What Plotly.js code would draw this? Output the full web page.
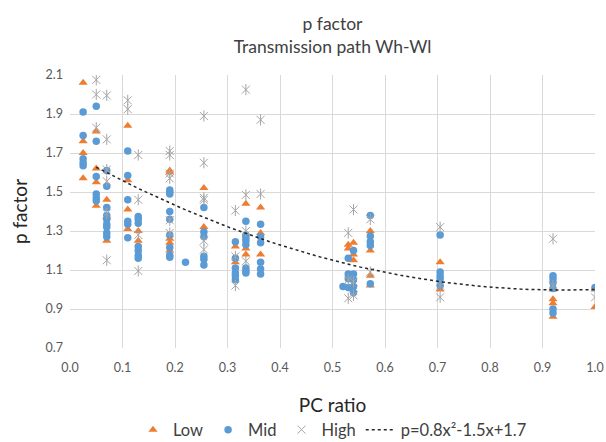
<!DOCTYPE html>
<html>
<head>
<meta charset="utf-8">
<script src="https://cdn.plot.ly/plotly-3.0.1.min.js"></script>
<style>html,body{margin:0;padding:0;background:#fff;}#chart{width:606px;height:442px;}</style>
</head>
<body>
<div id="chart"></div>
<script>
// ---- data ----
const lowX = [0.025,0.025,0.025,0.025, 0.05,0.05,0.05,0.05, 0.07,0.07,0.07, 0.11,0.11,0.11,0.11, 0.13,0.13,
  0.19,0.19,0.19,0.19,0.19, 0.255,0.255, 0.315,0.315, 0.335,0.335,0.335, 0.363,0.363,0.363,
  0.53,0.53, 0.54,0.54,0.54, 0.572,0.572,0.572,0.572, 0.705,0.705, 0.92,0.92,0.92,0.92, 1.0,1.0];
const lowY = [2.06,1.76,1.70,1.57, 1.81,1.62,1.55,1.43, 1.46,1.37,1.25, 1.84,1.56,1.41,1.31, 1.30,1.25,
  1.61,1.60,1.26,1.24,1.20, 1.52,1.32, 1.22,1.14, 1.44,1.21,1.18, 1.42,1.29,1.18,
  1.23,1.21, 1.24,1.18,1.15, 1.30,1.20,1.07,1.02, 1.14,1.00, 1.00,0.95,0.93,0.86, 1.00,0.91];

const midX = [0.025,0.025,0.025,0.025,0.025, 0.05,0.05,0.05,0.05,0.05,0.05,
  0.07,0.07,0.07,0.07,0.07,0.07,0.07,0.07,0.07, 0.11,0.11,0.11,0.11,0.11,0.11,
  0.13,0.13,0.13,0.13,0.13,0.13,0.13, 0.19,0.19,0.19,0.19,0.19,0.19,0.19,0.19,0.19, 0.22,
  0.255,0.255,0.255,0.255,0.255,0.255, 0.315,0.315,0.315,0.315,0.315,0.315,
  0.335,0.335,0.335,0.335,0.335,0.335,0.335,0.335, 0.363,0.363,0.363,0.363,0.363,0.363,
  0.52, 0.53,0.53,0.53,0.53, 0.54,0.54,0.54,0.54,0.54, 0.572,0.572,0.572,0.572,0.572,
  0.705,0.705,0.705,0.705,0.705, 0.92,0.92,0.92,0.92,0.92,0.92, 1.0];
const midY = [1.91,1.79,1.67,1.65,1.635, 1.94,1.76,1.58,1.49,1.47,1.455,
  1.61,1.53,1.42,1.38,1.36,1.335,1.32,1.29,1.27, 1.71,1.585,1.46,1.35,1.335,1.265,
  1.375,1.36,1.34,1.22,1.20,1.175,1.16, 1.51,1.50,1.49,1.40,1.36,1.28,1.215,1.175,1.165, 1.14,
  1.42,1.295,1.27,1.17,1.155,1.125, 1.245,1.16,1.11,1.085,1.07,1.05,
  1.35,1.28,1.265,1.25,1.23,1.11,1.095,1.085, 1.335,1.27,1.24,1.14,1.105,1.08,
  1.015, 1.16,1.08,1.055,1.01, 1.20,1.08,1.05,1.015,0.985, 1.38,1.275,1.245,1.225,1.03,
  1.28,1.09,1.07,1.055,1.02, 1.07,1.055,1.035,1.005,0.90,0.88, 1.01];

const highX = [0.05,0.05,0.05, 0.07,0.07,0.07,0.07,0.07,0.07, 0.11,0.11, 0.13,0.13,0.13,0.13,
  0.19,0.19,0.19,0.19,0.19,0.19, 0.255,0.255,0.255,0.255,0.255,0.255, 0.315,0.315,0.315,
  0.335,0.335,0.335,0.335, 0.363,0.363, 0.53,0.53,0.53, 0.54,0.54,0.54, 0.572,0.572,
  0.705,0.705,0.705, 0.92,0.92, 1.0];
const highY = [2.075,2.00,1.83, 1.995,1.77,1.615,1.555,1.39,1.15, 1.97,1.925, 1.69,1.46,1.28,1.095,
  1.71,1.69,1.595,1.57,1.355,1.29, 1.89,1.65,1.47,1.46,1.25,1.205, 1.405,1.17,1.02,
  2.025,1.485,1.30,1.145, 1.87,1.49, 1.29,1.05,0.955, 1.41,1.04,0.97, 1.36,1.09,
  1.32,1.02,0.96, 1.26,1.02, 0.96];

// trendline p = 0.8x^2 - 1.5x + 1.7 (as labelled), drawn over the fitted range
const trendCoef = [0.8, -1.5, 1.7];
const trendRange = [0.05, 1.0];
const trendLabel = 'p=0.8x²-1.5x+1.7';

const tickVals = [0,0.1,0.2,0.3,0.4,0.5,0.6,0.7,0.8,0.9,1.0];
const yTickVals = [0.7,0.9,1.1,1.3,1.5,1.7,1.9,2.1];

const trendX = [], trendY = [];
for (let i = 0; i <= 100; i++) {
  const x = trendRange[0] + (trendRange[1] - trendRange[0]) * i / 100;
  trendX.push(x);
  trendY.push(trendCoef[0]*x*x + trendCoef[1]*x + trendCoef[2]);
}

const FONT = 'Lato, "Open Sans", "Liberation Sans", sans-serif';

const traces = [
  {x: lowX, y: lowY, name: 'Low', type: 'scatter', mode: 'markers',
   marker: {symbol: 'triangle-up', size: 8, color: '#ED7D31'}},
  {x: midX, y: midY, name: 'Mid', type: 'scatter', mode: 'markers',
   marker: {symbol: 'circle', size: 7.5, color: '#5B9BD5'}},
  {x: highX, y: highY, name: 'High', type: 'scatter', mode: 'markers',
   marker: {symbol: 'x-thin-open', size: 8, color: '#A5A5A5', line: {width: 1, color: '#A5A5A5'}}},
  {x: highX, y: highY, name: 'High', type: 'scatter', mode: 'markers', showlegend: false, hoverinfo: 'skip',
   marker: {symbol: 'line-ns-open', size: 8, color: '#A5A5A5', line: {width: 1, color: '#A5A5A5'}}},
  {x: trendX, y: trendY, name: trendLabel, type: 'scatter', mode: 'lines',
   line: {color: '#262626', width: 1.5, dash: 'dot'}}
];

const layout = {
  width: 606, height: 442,
  paper_bgcolor: '#fff', plot_bgcolor: '#fff',
  margin: {l: 69.5, r: 10.5, t: 75, b: 94, autoexpand: false},
  font: {family: FONT, color: '#595959'},
  title: {text: 'p factor<br>Transmission path Wh-Wl', x: 0.5, xref: 'paper', y: 0.932, yanchor: 'middle',
    font: {family: FONT, size: 17.5, color: '#404040'}},
  xaxis: {range: [0, 1.0], tickvals: tickVals, tickformat: '.1f', showgrid: true, gridcolor: '#D9D9D9',
    zeroline: false, showline: false, ticks: '', ticklabelstandoff: 10, automargin: false,
    tickfont: {size: 12.5, color: '#595959'},
    title: {text: 'PC ratio', font: {size: 19, color: '#262626'}, standoff: 25}},
  yaxis: {range: [0.7, 2.1], tickvals: yTickVals, tickformat: '.1f', showgrid: true, gridcolor: '#D9D9D9',
    zeroline: false, showline: false, ticks: '', ticklabelstandoff: 6, automargin: false,
    tickfont: {size: 12.5, color: '#595959'},
    title: {text: 'p factor', font: {size: 19, color: '#262626'}, standoff: 12}},
  showlegend: true,
  legend: {orientation: 'h', x: 0.5, xanchor: 'center', y: -0.3, yanchor: 'middle',
    font: {size: 16.5, color: '#404040'}, itemwidth: 30, tracegroupgap: 0},
};

Plotly.newPlot('chart', traces, layout, {displayModeBar: false, staticPlot: true});
</script>
</body>
</html>
